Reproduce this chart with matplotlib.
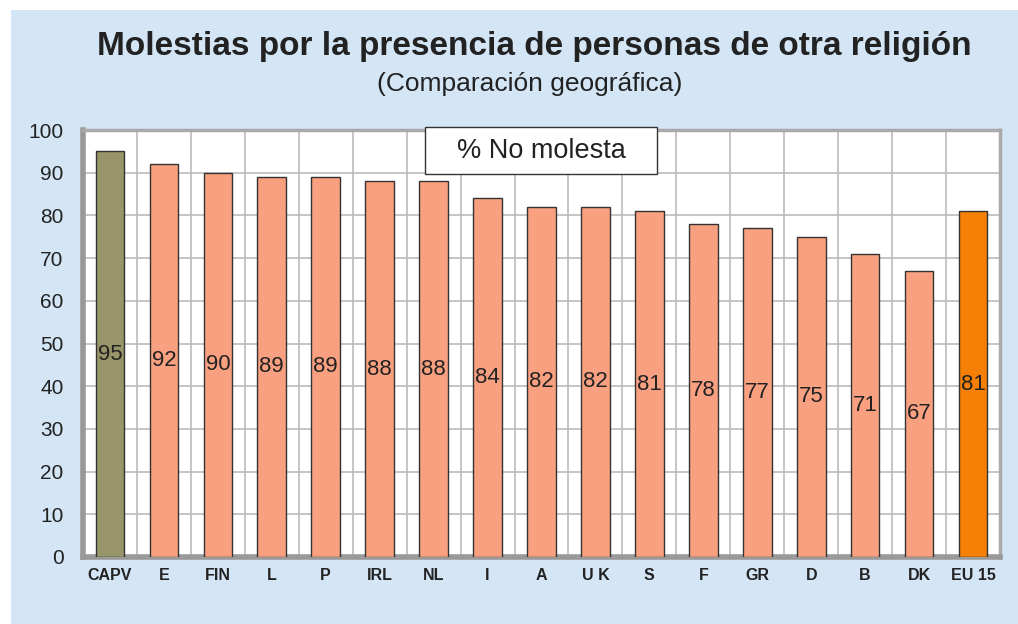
import matplotlib.pyplot as plt
from matplotlib.patches import Rectangle

plt.rcParams['font.family'] = ['Liberation Sans', 'DejaVu Sans']

paises = ["CAPV", "E", "FIN", "L", "P", "IRL", "NL", "I", "A", "U K",
          "S", "F", "GR", "D", "B", "DK", "EU 15"]
no_molesta = [95, 92, 90, 89, 89, 88, 88, 84, 82, 82, 81, 78, 77, 75, 71, 67, 81]
colores = ["#989669"] + ["#F9A081"] * 15 + ["#F58005"]
yticks = [0, 10, 20, 30, 40, 50, 60, 70, 80, 90, 100]

fig = plt.figure(figsize=(10.18, 6.24), dpi=100)
# fondo azul claro con margen blanco arriba/izquierda
fig.patches.append(Rectangle((11 / 1018, 0), 1, 1 - 10 / 624,
                             transform=fig.transFigure, facecolor="#D4E6F5",
                             edgecolor="none", zorder=-1))

ax = fig.add_axes([83 / 1018, 1 - 557 / 624, 917 / 1018, 427 / 624])
ax.set_facecolor("white")

x = range(len(paises))
ax.bar(x, no_molesta, width=0.53, color=colores, edgecolor="#333333",
       linewidth=1, zorder=3)

for i, v in enumerate(no_molesta):
    ax.text(i, v / 2, str(v), ha="center", va="center", fontsize=16,
            color="#222222", zorder=4)

ax.set_xlim(-0.5, len(paises) - 0.5)
ax.set_ylim(0, 100)
ax.set_yticks(yticks)
ax.set_yticklabels([str(t) for t in yticks], fontsize=15, color="#222222")
ax.set_xticks(list(x))
ax.set_xticklabels(paises, fontsize=11.5, fontweight="bold", color="#222222")
ax.tick_params(length=0, pad=8)
ax.tick_params(axis="y", pad=14)

# rejilla
ax.set_xticks([i + 0.5 for i in range(len(paises) - 1)], minor=True)
ax.grid(True, axis="y", color="#BBBBBB", linewidth=1.2, zorder=0)
ax.grid(True, axis="x", which="minor", color="#BBBBBB", linewidth=1.2, zorder=0)
ax.grid(False, axis="x", which="major")
ax.tick_params(which="minor", length=0)

for s in ["top", "right"]:
    ax.spines[s].set_color("#AAAAAA")
    ax.spines[s].set_linewidth(2.5)
for s in ["left", "bottom"]:
    ax.spines[s].set_color("#999999")
    ax.spines[s].set_linewidth(4)

# caja de leyenda
caja = Rectangle((0.373, 0.896), 0.253, 0.11, transform=ax.transAxes,
                 facecolor="white", edgecolor="#333333", linewidth=1,
                 zorder=5, clip_on=False)
ax.add_patch(caja)
ax.text(0.4995, 0.951, "% No molesta", transform=ax.transAxes, ha="center",
        va="center", fontsize=19.5, color="#222222", zorder=6)

fig.text(0.5246, 0.925, "Molestias por la presencia de personas de otra religión",
         ha="center", va="center", fontsize=24, fontweight="bold",
         color="#222222")
fig.text(0.52, 0.865, "(Comparación geográfica)", ha="center", va="center",
         fontsize=19, color="#222222")

fig.savefig("out.png", dpi=100)
